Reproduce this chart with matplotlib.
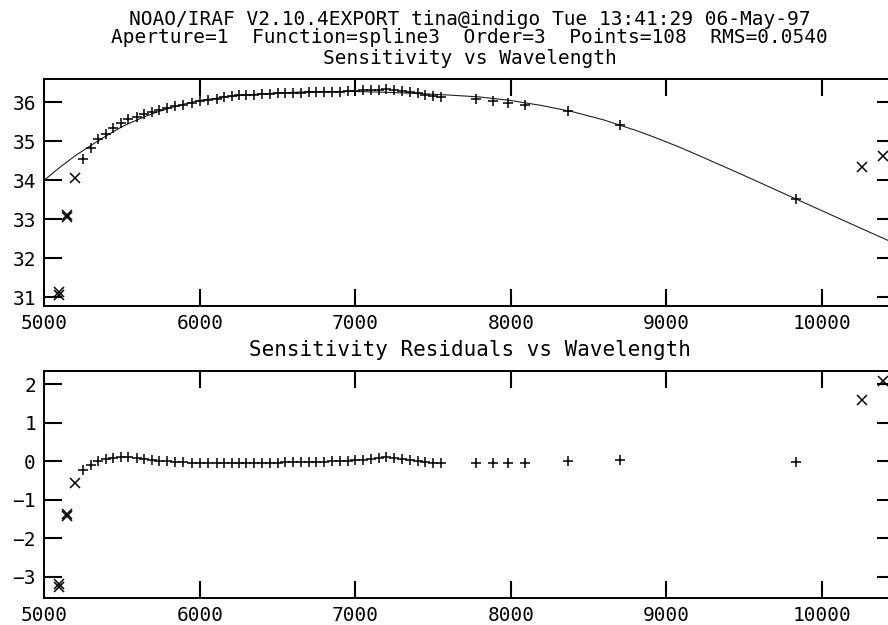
import matplotlib
matplotlib.use("Agg")
import matplotlib.pyplot as plt

# ---------------- data ----------------
# fitted points (plus markers)
wave_fit = [5251, 5298, 5347, 5397, 5444, 5493, 5541, 5594, 5643, 5693, 5740, 5791,
            5841, 5894, 5948, 6001, 6055, 6109, 6158, 6209, 6250, 6300, 6350, 6400,
            6450, 6500, 6550, 6600, 6650, 6700, 6750, 6800, 6850, 6900, 6950, 7000,
            7050, 7100, 7150, 7200, 7250, 7300, 7350, 7400, 7450, 7500, 7550,
            7776, 7883, 7984, 8093, 8366, 8702, 9833]
sens_fit = [34.54, 34.82, 35.05, 35.19, 35.33, 35.46, 35.56, 35.63, 35.69, 35.75, 35.80, 35.85,
            35.89, 35.93, 35.97, 36.02, 36.06, 36.09, 36.12, 36.15, 36.17, 36.18, 36.19, 36.20,
            36.21, 36.22, 36.23, 36.24, 36.24, 36.25, 36.25, 36.26, 36.27, 36.27, 36.28, 36.29,
            36.30, 36.31, 36.32, 36.33, 36.31, 36.28, 36.25, 36.22, 36.19, 36.16, 36.13,
            36.09, 36.03, 35.98, 35.92, 35.76, 35.40, 33.52]
resid_fit = [-0.23, -0.10, 0.00, 0.05, 0.09, 0.10, 0.10, 0.09, 0.05, 0.03, 0.00, 0.00,
             -0.02, -0.03, -0.04, -0.05, -0.05, -0.05, -0.05, -0.05, -0.05, -0.05, -0.05, -0.05,
             -0.04, -0.04, -0.03, -0.02, -0.03, -0.02, -0.02, -0.01, 0.00, 0.00, 0.01, 0.02,
             0.04, 0.05, 0.08, 0.10, 0.08, 0.05, 0.03, 0.00, -0.02, -0.04, -0.06,
             -0.06, -0.06, -0.06, -0.06, 0.01, 0.03, -0.02]

# rejected points (x markers)
wave_rej = [5096, 5096, 5148, 5148, 5199, 10257, 10392]
sens_rej = [31.05, 31.15, 33.06, 33.10, 34.05, 34.35, 34.61]
resid_rej = [-3.28, -3.20, -1.42, -1.38, -0.58, 1.59, 2.09]

# fitted spline curve
curve_wave = [5000, 5100, 5200, 5300, 5400, 5500, 5600, 5700, 5800, 5900, 6000, 6200,
              6400, 6600, 6800, 7000, 7200, 7400, 7600, 7800, 8000, 8200, 8400, 8600,
              8800, 8900, 9000, 9100, 9250, 9375, 9500, 9750, 10000, 10200, 10470]
curve_sens = [34.00, 34.33, 34.63, 34.89, 35.14, 35.37, 35.55, 35.71, 35.84, 35.95, 36.04, 36.15,
              36.21, 36.25, 36.27, 36.27, 36.25, 36.22, 36.18, 36.13, 36.04, 35.91, 35.75, 35.54,
              35.28, 35.135, 34.98, 34.82, 34.56, 34.34, 34.12, 33.67, 33.22, 32.86, 32.38]

xticks = [5000, 6000, 7000, 8000, 9000, 10000]
yticks_top = [31, 32, 33, 34, 35, 36]
yticks_bot = [-3, -2, -1, 0, 1, 2]

header1 = "NOAO/IRAF V2.10.4EXPORT tina@indigo Tue 13:41:29 06-May-97"
header2 = "Aperture=1  Function=spline3  Order=3  Points=108  RMS=0.0540"
title_top = "Sensitivity vs Wavelength"
title_bot = "Sensitivity Residuals vs Wavelength"

# ---------------- figure ----------------
plt.rcParams['font.family'] = ['DejaVu Sans Mono', 'DejaVu Sans']
W, H = 888, 625
fig = plt.figure(figsize=(W / 100, H / 100), dpi=100)
fig.patch.set_facecolor('white')

left_px, right_px = 44.3, 895.4
ax1 = fig.add_axes([left_px / W, 1 - 306.0 / H, (right_px - left_px) / W, (306.0 - 79.0) / H])
ax2 = fig.add_axes([left_px / W, 1 - 597.7 / H, (right_px - left_px) / W, (597.7 - 370.7) / H])

pm = dict(marker='+', linestyle='none', color='black', markersize=7.0, markeredgewidth=1.1)
xm = dict(marker='x', linestyle='none', color='black', markersize=6.5, markeredgewidth=1.1)

ax1.plot(curve_wave, curve_sens, color='#222222', lw=0.8)
ax1.plot(wave_fit, sens_fit, **pm)
ax1.plot(wave_rej, sens_rej, **xm)
ax1.set_ylim(30.78, 36.59)
ax1.set_yticks(yticks_top)

ax2.plot(wave_fit, resid_fit, **pm)
ax2.plot(wave_rej, resid_rej, **xm)
ax2.set_ylim(-3.55, 2.35)
ax2.set_yticks(yticks_bot)

for ax in (ax1, ax2):
    ax.set_xlim(5000, 10473)
    ax.set_xticks(xticks)
    for s in ax.spines.values():
        s.set_linewidth(1.4)
    ax.tick_params(axis='x', which='major', direction='in', length=12, width=1.5,
                   top=True, bottom=True, labelsize=14, pad=6)
    ax.tick_params(axis='y', which='major', direction='in', length=12.8, width=1.5,
                   left=True, right=True, labelsize=14, pad=6)
    ax.minorticks_off()

cx = (left_px + right_px) / 2 / W
fig.text(cx, 1 - 25 / H, header1, ha='center', va='baseline', fontsize=14)
fig.text(cx, 1 - 43 / H, header2, ha='center', va='baseline', fontsize=14)
fig.text(cx, 1 - 64 / H, title_top, ha='center', va='baseline', fontsize=14)
fig.text(cx, 1 - 356 / H, title_bot, ha='center', va='baseline', fontsize=15)

fig.savefig('out.png', dpi=100, facecolor='white')
